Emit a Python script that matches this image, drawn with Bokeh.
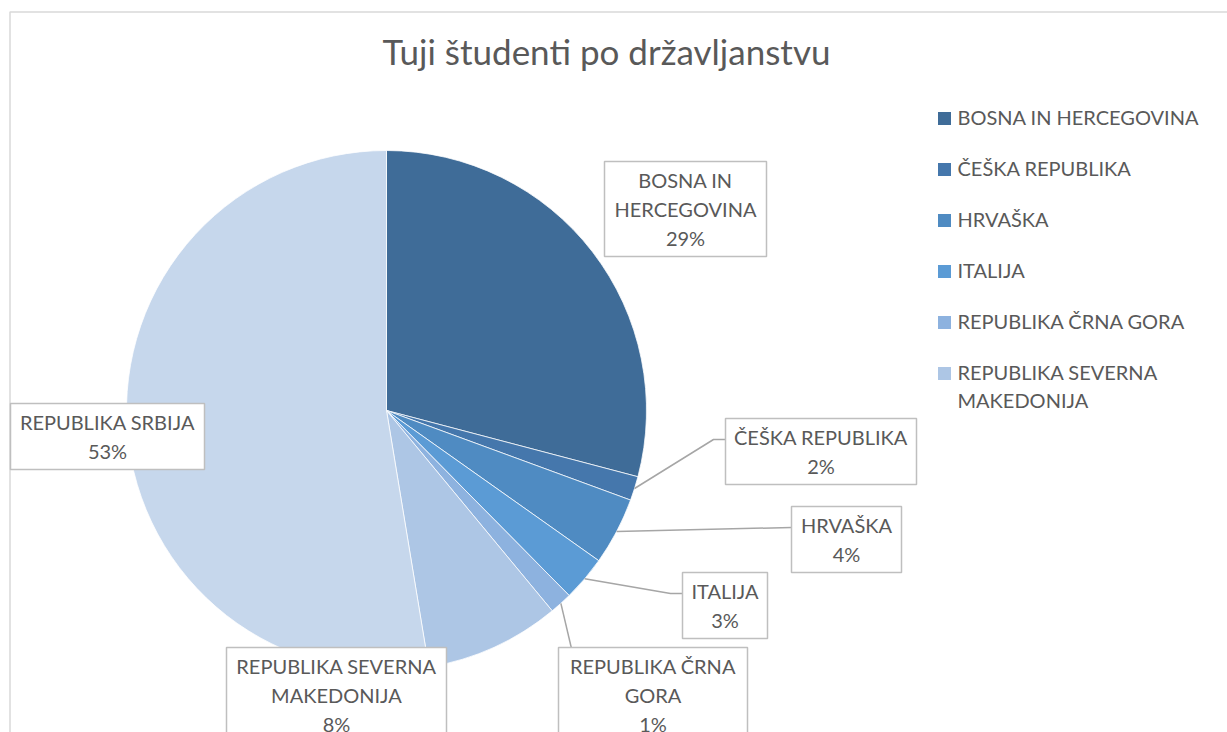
import math
import textwrap
from bokeh.plotting import figure
from bokeh.models import ColumnDataSource, Range1d
from bokeh.core.properties import value
from bokeh.embed import file_html
from bokeh.resources import INLINE

# ---------------- data ----------------
title = "Tuji študenti po državljanstvu"
categories = ["BOSNA IN HERCEGOVINA", "ČEŠKA REPUBLIKA", "HRVAŠKA", "ITALIJA",
              "REPUBLIKA ČRNA GORA", "REPUBLIKA SEVERNA MAKEDONIJA", "REPUBLIKA SRBIJA"]
shares = [29.1, 1.5, 4.2, 2.8, 1.4, 8.4, 52.6]
colors = ["#3F6C98", "#4577AC", "#4F8BC2", "#5B9BD5", "#8DB2DF", "#ADC6E5", "#C6D7EC"]

# ---------------- layout helpers ----------------
W, H = 1227, 732
def X(px):
    return px
def Y(py):
    return H - py

FONT = value("Lato")
TXT = "#595959"
LBL = 20      # label / legend font size (px)
TTL = 35      # title font size (px)
def T(py, size):
    # baseline position corrected for renderer offset
    return Y(py - 0.41 * size)

p = figure(width=W, height=H, x_range=Range1d(0, W), y_range=Range1d(0, H),
           x_axis_type=None, y_axis_type=None, toolbar_location=None,
           output_backend="svg", min_border=0)
p.outline_line_color = None
p.background_fill_color = "white"
p.border_fill_color = "white"

# chart border (light gray frame, cut by the window)
p.line(x=[X(9.5), X(9.5), X(1240)], y=[Y(760), Y(11.5), Y(11.5)],
       line_color="#D9D9D9", line_width=1.5)

# ---------------- pie ----------------
total = float(sum(shares))
cum = 0.0
starts, ends, mids = [], [], []
for s in shares:
    a0 = cum / total * 2 * math.pi
    cum += s
    a1 = cum / total * 2 * math.pi
    starts.append(math.pi / 2 - a0)
    ends.append(math.pi / 2 - a1)
    mids.append((a0 + a1) / 2)

cx, cy, R = X(386), Y(410), 260
src = ColumnDataSource(dict(start=starts, end=ends, color=colors))
p.wedge(x=cx, y=cy, radius=R, start_angle="start", end_angle="end",
        direction="clock", fill_color="color", line_color="white",
        line_width=0.75, source=src)

# ---------------- leader lines ----------------
leader_pts = {1: [(713, 439), (725, 439)],
              2: [(791, 527)],
              3: [(670, 593), (682, 593)],
              4: [(571, 648)]}
lxs, lys = [], []
for i, pts in leader_pts.items():
    sx = cx + R * math.sin(mids[i])
    sy = cy + R * math.cos(mids[i])
    lxs.append([sx] + [X(a) for a, b in pts])
    lys.append([sy] + [Y(b) for a, b in pts])
p.multi_line(xs=lxs, ys=lys, line_color="#A6A6A6", line_width=1.5)

# ---------------- data labels ----------------
# (left, top, right) in page px, and wrap width
boxes = [(604, 161, 766, 11), (725, 418, 916, 16), (791, 506, 901, 16),
         (682, 572, 767, 16), (558, 647, 747, 14), (226, 647, 446, 17),
         (10, 403, 204, 16)]
LH = 29
ql, qr, qt, qb = [], [], [], []
tx, ty, tt = [], [], []
for i, (l, t, r, ww) in enumerate(boxes):
    pct = int(shares[i] / total * 100 + 0.5)
    lines = textwrap.wrap(categories[i], ww) + [f"{pct}%"]
    n = len(lines)
    h = LH * n + 8
    ql.append(X(l)); qr.append(X(r)); qt.append(Y(t)); qb.append(Y(t + h))
    cyb = t + h / 2
    for k, line in enumerate(lines):
        tx.append(X((l + r) / 2))
        ty.append(T(cyb + 8 + (k - (n - 1) / 2) * LH, LBL))
        tt.append(line)
p.quad(left=ql, right=qr, top=qt, bottom=qb, fill_color="white",
       line_color="#BFBFBF", line_width=1.5)
p.text(x=tx, y=ty, text=tt, text_font=FONT, text_font_size=f"{LBL}px",
       text_color=TXT, text_align="center", text_baseline="alphabetic")

# ---------------- legend (first six entries fit) ----------------
lgx, lgy, lgt = [], [], []
sqy, sqc = [], []
for k in range(6):
    c = 118 + 51 * k
    sqy.append(Y(c)); sqc.append(colors[k])
    for j, line in enumerate(textwrap.wrap(categories[k], 20)):
        lgx.append(X(957)); lgy.append(T(c + 7 + 28 * j, LBL)); lgt.append(line)
p.rect(x=[X(944)] * 6, y=sqy, width=13, height=13, fill_color=sqc, line_color=None)
p.text(x=lgx, y=lgy, text=lgt, text_font=FONT, text_font_size=f"{LBL}px",
       text_color=TXT, text_align="left", text_baseline="alphabetic")

# ---------------- title ----------------
p.text(x=[X(606)], y=[T(65, TTL)], text=[title], text_font=FONT,
       text_font_size=f"{TTL}px", text_color=TXT, text_align="center",
       text_baseline="alphabetic")

open("out.html", "w").write(file_html(p, INLINE))
